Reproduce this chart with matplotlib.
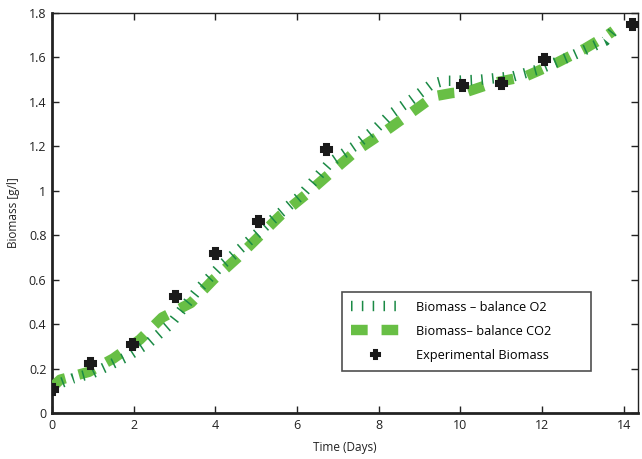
import matplotlib
matplotlib.use("Agg")
import matplotlib.pyplot as plt

plt.rcParams['font.family'] = ['Open Sans', 'DejaVu Sans']
plt.rcParams['lines.scale_dashes'] = False

# Model: biomass from O2 balance
t_o2 = [0, 0.5, 1.0, 1.35, 1.85, 2.4, 2.9, 3.2, 3.6, 4.15, 4.8, 5.4, 6.1, 6.8,
        7.4, 7.9, 8.3, 8.8, 9.3, 9.6, 9.9, 10.5, 11.3, 11.9, 12.7, 13.25, 13.55, 13.75]
biomass_o2 = [0.12, 0.155, 0.18, 0.21, 0.255, 0.32, 0.40, 0.47, 0.56, 0.665, 0.77, 0.87,
              0.98, 1.125, 1.20, 1.275, 1.345, 1.41, 1.48, 1.495, 1.495, 1.50, 1.515,
              1.545, 1.605, 1.65, 1.675, 1.72]

# Model: biomass from CO2 balance
t_co2 = [0, 0.2, 0.9, 1.5, 2.15, 2.7, 3.4, 3.95, 4.55, 5.1, 5.6, 6.2, 6.85, 7.45,
         8.1, 8.75, 9.35, 9.8, 10.15, 10.8, 11.6, 12.35, 13.05, 13.6, 13.75]
biomass_co2 = [0.115, 0.15, 0.185, 0.245, 0.33, 0.43, 0.495, 0.60, 0.70, 0.80, 0.89,
               0.98, 1.085, 1.18, 1.26, 1.345, 1.425, 1.44, 1.445, 1.485, 1.515,
               1.575, 1.64, 1.70, 1.72]

# Measured biomass
t_exp = [0, 0.93, 1.97, 3.01, 4.0, 5.04, 6.71, 10.04, 11.0, 12.05, 14.21]
biomass_exp = [0.11, 0.224, 0.31, 0.528, 0.72, 0.866, 1.186, 1.478, 1.485, 1.592, 1.75]

xticks = [0, 2, 4, 6, 8, 10, 12, 14]
yticks = [0, 0.2, 0.4, 0.6, 0.8, 1.0, 1.2, 1.4, 1.6, 1.8]
ytick_labels = ['0', '0.2', '0.4', '0.6', '0.8', '1', '1.2', '1.4', '1.6', '1.8']

fig = plt.figure(figsize=(6.42, 4.59), dpi=100)
ax = fig.add_axes([0.081, 0.1002, 0.9128, 0.8715])

l_o2, = ax.plot(t_o2, biomass_o2, color='#1b8a45', linewidth=7.5,
                dashes=(1.1, 6.7), solid_capstyle='butt', dash_capstyle='butt',
                zorder=4, label='Biomass \u2013 balance O2')
l_co2, = ax.plot(t_co2, biomass_co2, color='#68bf45', linewidth=7.5,
                 dashes=(12, 10), dash_capstyle='butt', zorder=3,
                 label='Biomass\u2013 balance CO2')
l_exp, = ax.plot(t_exp, biomass_exp, linestyle='none', marker='P', markersize=6.5,
                 color='#1a1a1a', markeredgecolor='#1a1a1a', markeredgewidth=2.2,
                 zorder=5, label='Experimental Biomass')

ax.set_xlim(0, 14.35)
ax.set_ylim(0, 1.8)
ax.set_xticks(xticks)
ax.set_yticks(yticks)
ax.set_yticklabels(ytick_labels)
ax.tick_params(direction='in', length=5, width=1, labelsize=9, colors='#222222',
               top=True, right=True, pad=4)
for side in ['left', 'bottom']:
    ax.spines[side].set_linewidth(2)
for side in ['top', 'right']:
    ax.spines[side].set_linewidth(1)
for s in ax.spines.values():
    s.set_color('#222222')

ax.set_xlabel('Time (Days)', fontsize=8.5, color='#222222', labelpad=7)
ax.set_ylabel('Biomass [g/l]', fontsize=8.5, color='#222222', labelpad=6)

leg = ax.legend(handles=[l_o2, l_co2, l_exp], loc='lower left',
                bbox_to_anchor=(0.495, 0.105, 0.425, 0.2), mode='expand',
                borderaxespad=0, fontsize=9.2,
                frameon=True, fancybox=False, edgecolor='#222222',
                handlelength=3.8, handletextpad=1.3, borderpad=0.71,
                labelspacing=0.87, markerscale=0.85)
leg.get_frame().set_linewidth(1.2)

fig.savefig('out.png', dpi=100)
